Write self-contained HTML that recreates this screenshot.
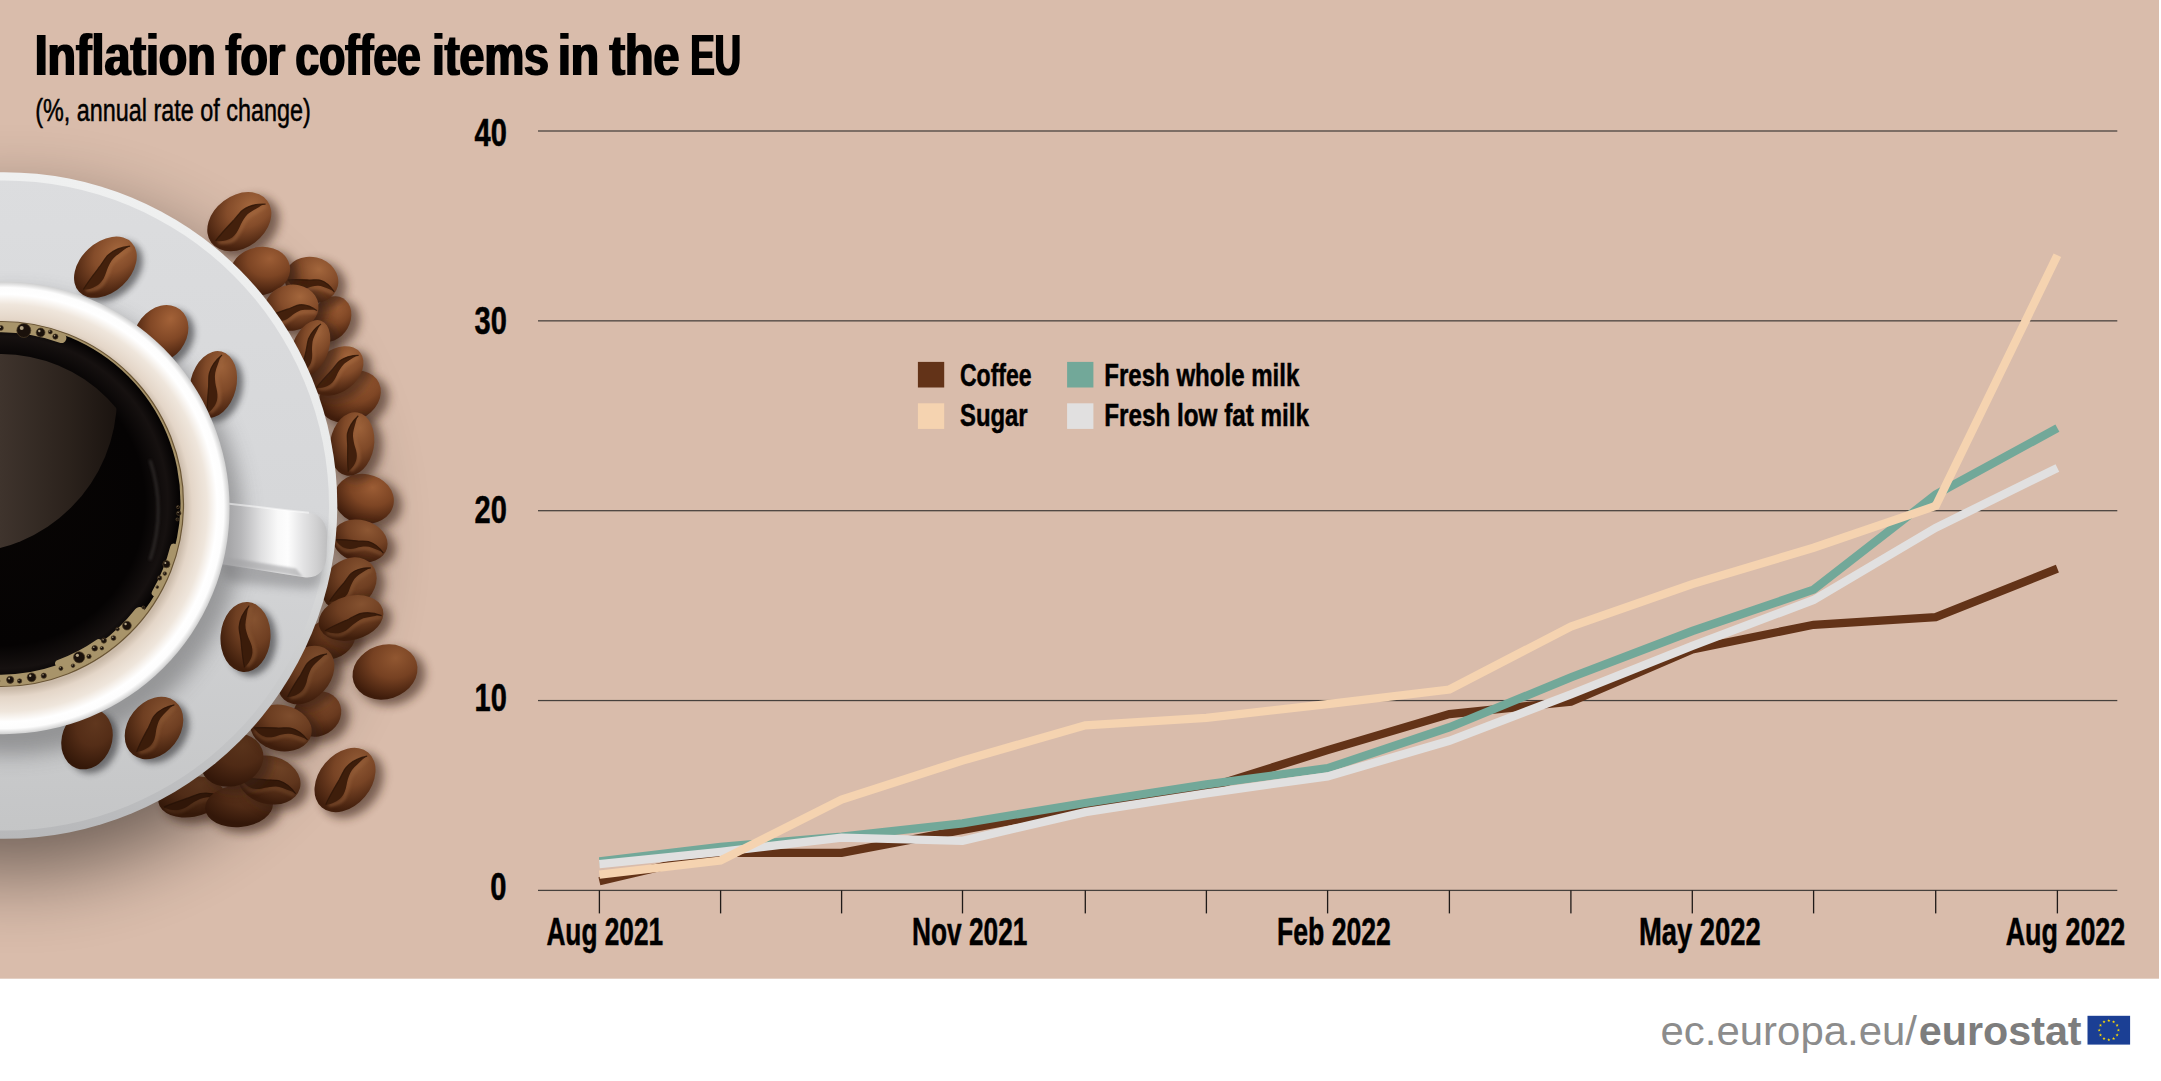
<!DOCTYPE html>
<html lang="en"><head><meta charset="utf-8"><title>Inflation for coffee items in the EU</title>
<style>html,body{margin:0;padding:0;background:#fff;overflow:hidden}svg{display:block}text{font-family:"Liberation Sans",sans-serif}.b{font-weight:700}</style></head><body>
<svg width="2161" height="1081" viewBox="0 0 2161 1081">
<defs>
<filter id="blur25" x="-30%" y="-30%" width="160%" height="160%"><feGaussianBlur stdDeviation="40"/></filter>
<filter id="blur14" x="-30%" y="-30%" width="160%" height="160%"><feGaussianBlur stdDeviation="14"/></filter>
<filter id="blur18" x="-30%" y="-30%" width="160%" height="160%"><feGaussianBlur stdDeviation="18"/></filter>
<filter id="blur6" x="-50%" y="-50%" width="200%" height="200%"><feGaussianBlur stdDeviation="5"/></filter>
<filter id="blur3" x="-50%" y="-50%" width="200%" height="200%"><feGaussianBlur stdDeviation="3"/></filter>
<filter id="blur1" x="-20%" y="-50%" width="140%" height="200%"><feGaussianBlur stdDeviation="0.8"/></filter>
<filter id="blur2" x="-50%" y="-50%" width="200%" height="200%"><feGaussianBlur stdDeviation="1.6"/></filter>
<filter id="blur10" x="-50%" y="-50%" width="200%" height="200%"><feGaussianBlur stdDeviation="10"/></filter>
<filter id="fat" x="-2%" y="-20%" width="104%" height="140%"><feMorphology operator="dilate" radius="1 0"/></filter>
<clipPath id="tanclip"><rect x="0" y="0" width="2159" height="978.7"/></clipPath>
<clipPath id="saucerclip"><circle cx="4" cy="505.5" r="333.3"/></clipPath>
<linearGradient id="saucerg" x1="0" y1="172" x2="0" y2="839" gradientUnits="userSpaceOnUse">
<stop offset="0" stop-color="#dcdddf"/><stop offset="0.5" stop-color="#d6d7d9"/><stop offset="1" stop-color="#c4c5c6"/></linearGradient>
<linearGradient id="rimg" x1="0" y1="172" x2="0" y2="839" gradientUnits="userSpaceOnUse">
<stop offset="0" stop-color="#eff0f0"/><stop offset="0.45" stop-color="#e9eaea"/><stop offset="0.7" stop-color="#cfd0d1"/><stop offset="1" stop-color="#b7b8ba"/></linearGradient>
<radialGradient id="cupg" cx="3.4" cy="508" r="226.2" gradientUnits="userSpaceOnUse">
<stop offset="0.80" stop-color="#c9b9a8"/><stop offset="0.835" stop-color="#e4d6c8"/><stop offset="0.90" stop-color="#efe6dc"/><stop offset="0.945" stop-color="#ffffff"/><stop offset="0.975" stop-color="#fdfdfd"/><stop offset="1" stop-color="#cfcfcf"/></radialGradient>
<radialGradient id="coffeeg" cx="2" cy="502.5" r="178.5" gradientUnits="userSpaceOnUse">
<stop offset="0" stop-color="#080504"/><stop offset="0.8" stop-color="#050303"/><stop offset="0.93" stop-color="#161110"/><stop offset="1" stop-color="#040202"/></radialGradient>
<linearGradient id="reflg" x1="0" y1="440" x2="115" y2="440" gradientUnits="userSpaceOnUse">
<stop offset="0" stop-color="#3f342d"/><stop offset="0.6" stop-color="#2b221c"/><stop offset="1" stop-color="#1b1410"/></linearGradient>
<clipPath id="reflclip"><circle cx="1" cy="504" r="150"/></clipPath>
<linearGradient id="handleg" x1="229" y1="0" x2="327" y2="0" gradientUnits="userSpaceOnUse">
<stop offset="0" stop-color="#a6a6a8"/><stop offset="0.12" stop-color="#b6b6b8"/><stop offset="0.33" stop-color="#e0e0e1"/><stop offset="0.5" stop-color="#f9f9f9"/><stop offset="0.6" stop-color="#fdfdfd"/><stop offset="0.75" stop-color="#e4e4e5"/><stop offset="0.9" stop-color="#cfcfd0"/><stop offset="1" stop-color="#bebebf"/></linearGradient>
<radialGradient id="bg1" cx="0.770" cy="0.382" r="0.74" fx="0.770" fy="0.382"><stop offset="0" stop-color="#a3663c"/><stop offset="0.5" stop-color="#844c2a"/><stop offset="1" stop-color="#46210e"/></radialGradient><radialGradient id="bg2" cx="0.792" cy="0.505" r="0.74" fx="0.792" fy="0.505"><stop offset="0" stop-color="#9c5d35"/><stop offset="0.5" stop-color="#7d4524"/><stop offset="1" stop-color="#401d0c"/></radialGradient><radialGradient id="bg3" cx="0.590" cy="0.240" r="0.74" fx="0.590" fy="0.240"><stop offset="0" stop-color="#a3663c"/><stop offset="0.5" stop-color="#844c2a"/><stop offset="1" stop-color="#46210e"/></radialGradient><radialGradient id="bg4" cx="0.691" cy="0.280" r="0.74" fx="0.691" fy="0.280"><stop offset="0" stop-color="#9c5d35"/><stop offset="0.5" stop-color="#7d4524"/><stop offset="1" stop-color="#401d0c"/></radialGradient><radialGradient id="bg5" cx="0.742" cy="0.333" r="0.74" fx="0.742" fy="0.333"><stop offset="0" stop-color="#9c5d35"/><stop offset="0.5" stop-color="#7d4524"/><stop offset="1" stop-color="#401d0c"/></radialGradient><radialGradient id="bg6" cx="0.772" cy="0.380" r="0.74" fx="0.772" fy="0.380"><stop offset="0" stop-color="#a3663c"/><stop offset="0.5" stop-color="#844c2a"/><stop offset="1" stop-color="#46210e"/></radialGradient><radialGradient id="bg7" cx="0.683" cy="0.287" r="0.74" fx="0.683" fy="0.287"><stop offset="0" stop-color="#a3663c"/><stop offset="0.5" stop-color="#844c2a"/><stop offset="1" stop-color="#46210e"/></radialGradient><radialGradient id="bg8" cx="0.788" cy="0.561" r="0.74" fx="0.788" fy="0.561"><stop offset="0" stop-color="#9c6139"/><stop offset="0.5" stop-color="#7f4928"/><stop offset="1" stop-color="#44200e"/></radialGradient><radialGradient id="bg9" cx="0.604" cy="0.239" r="0.74" fx="0.604" fy="0.239"><stop offset="0" stop-color="#9c5d35"/><stop offset="0.5" stop-color="#7d4524"/><stop offset="1" stop-color="#401d0c"/></radialGradient><radialGradient id="bg10" cx="0.772" cy="0.621" r="0.74" fx="0.772" fy="0.621"><stop offset="0" stop-color="#9c6139"/><stop offset="0.5" stop-color="#7f4928"/><stop offset="1" stop-color="#44200e"/></radialGradient><radialGradient id="bg11" cx="0.580" cy="0.201" r="0.74" fx="0.580" fy="0.201"><stop offset="0" stop-color="#8d5733"/><stop offset="0.5" stop-color="#744224"/><stop offset="1" stop-color="#411e0d"/></radialGradient><radialGradient id="bg12" cx="0.776" cy="0.405" r="0.74" fx="0.776" fy="0.405"><stop offset="0" stop-color="#855230"/><stop offset="0.5" stop-color="#6f3f22"/><stop offset="1" stop-color="#3f1e0c"/></radialGradient><radialGradient id="bg13" cx="0.726" cy="0.309" r="0.74" fx="0.726" fy="0.309"><stop offset="0" stop-color="#764627"/><stop offset="0.5" stop-color="#63361c"/><stop offset="1" stop-color="#391a0a"/></radialGradient><radialGradient id="bg14" cx="0.710" cy="0.257" r="0.74" fx="0.710" fy="0.257"><stop offset="0" stop-color="#855230"/><stop offset="0.5" stop-color="#6f3f22"/><stop offset="1" stop-color="#3f1e0c"/></radialGradient><radialGradient id="bg15" cx="0.755" cy="0.371" r="0.74" fx="0.755" fy="0.371"><stop offset="0" stop-color="#7e4a2a"/><stop offset="0.5" stop-color="#68391e"/><stop offset="1" stop-color="#3a1a0a"/></radialGradient><radialGradient id="bg16" cx="0.786" cy="0.439" r="0.74" fx="0.786" fy="0.439"><stop offset="0" stop-color="#7e4d2d"/><stop offset="0.5" stop-color="#6a3c20"/><stop offset="1" stop-color="#3e1d0c"/></radialGradient><radialGradient id="bg17" cx="0.691" cy="0.209" r="0.74" fx="0.691" fy="0.209"><stop offset="0" stop-color="#59341d"/><stop offset="0.5" stop-color="#502c17"/><stop offset="1" stop-color="#35190a"/></radialGradient><radialGradient id="bg18" cx="0.671" cy="0.194" r="0.74" fx="0.671" fy="0.194"><stop offset="0" stop-color="#59331b"/><stop offset="0.5" stop-color="#4f2a15"/><stop offset="1" stop-color="#331709"/></radialGradient><radialGradient id="bg19" cx="0.580" cy="0.201" r="0.74" fx="0.580" fy="0.201"><stop offset="0" stop-color="#6f4326"/><stop offset="0.5" stop-color="#60361d"/><stop offset="1" stop-color="#3a1b0b"/></radialGradient><radialGradient id="bg20" cx="0.726" cy="0.319" r="0.74" fx="0.726" fy="0.319"><stop offset="0" stop-color="#59331b"/><stop offset="0.5" stop-color="#4f2a15"/><stop offset="1" stop-color="#331709"/></radialGradient><radialGradient id="bg21" cx="0.595" cy="0.203" r="0.74" fx="0.595" fy="0.203"><stop offset="0" stop-color="#7e4d2d"/><stop offset="0.5" stop-color="#6a3c20"/><stop offset="1" stop-color="#3e1d0c"/></radialGradient><radialGradient id="bg22" cx="0.720" cy="0.313" r="0.74" fx="0.720" fy="0.313"><stop offset="0" stop-color="#915731"/><stop offset="0.5" stop-color="#764122"/><stop offset="1" stop-color="#3e1c0b"/></radialGradient><radialGradient id="bg23" cx="0.788" cy="0.449" r="0.74" fx="0.788" fy="0.449"><stop offset="0" stop-color="#915a35"/><stop offset="0.5" stop-color="#784425"/><stop offset="1" stop-color="#421f0d"/></radialGradient><radialGradient id="bg24" cx="0.789" cy="0.465" r="0.74" fx="0.789" fy="0.465"><stop offset="0" stop-color="#a36238"/><stop offset="0.5" stop-color="#824826"/><stop offset="1" stop-color="#421e0c"/></radialGradient><radialGradient id="bg25" cx="0.786" cy="0.555" r="0.74" fx="0.786" fy="0.555"><stop offset="0" stop-color="#60371e"/><stop offset="0.5" stop-color="#542d17"/><stop offset="1" stop-color="#341809"/></radialGradient><radialGradient id="bg26" cx="0.780" cy="0.407" r="0.74" fx="0.780" fy="0.407"><stop offset="0" stop-color="#a3663c"/><stop offset="0.5" stop-color="#844c2a"/><stop offset="1" stop-color="#46210e"/></radialGradient><radialGradient id="bg27" cx="0.779" cy="0.601" r="0.74" fx="0.779" fy="0.601"><stop offset="0" stop-color="#9c6139"/><stop offset="0.5" stop-color="#7f4928"/><stop offset="1" stop-color="#44200e"/></radialGradient><radialGradient id="bg28" cx="0.760" cy="0.648" r="0.74" fx="0.760" fy="0.648"><stop offset="0" stop-color="#855230"/><stop offset="0.5" stop-color="#6f3f22"/><stop offset="1" stop-color="#3f1e0c"/></radialGradient><radialGradient id="bg29" cx="0.789" cy="0.463" r="0.74" fx="0.789" fy="0.463"><stop offset="0" stop-color="#855230"/><stop offset="0.5" stop-color="#6f3f22"/><stop offset="1" stop-color="#3f1e0c"/></radialGradient></defs>
<rect x="0" y="0" width="2161" height="1081" fill="#fff"/>
<rect x="0" y="0" width="2159" height="978.7" fill="#d9bcab"/>
<g clip-path="url(#tanclip)"><circle cx="16" cy="539" r="333" fill="#000" opacity="0.49" filter="url(#blur25)"/><ellipse cx="246.3" cy="226.7" rx="36" ry="27" transform="rotate(-37 246.3 226.7)" fill="#3b2418" opacity="0.6" filter="url(#blur6)"/><g transform="translate(239.3 221.7) rotate(-37)"><ellipse rx="35" ry="26" fill="url(#bg1)"/><g transform="rotate(-5)"><path d="M-29.4,1.0 C-24.7,6.2 -19.0,9.9 -14.2,9.4 C-7.6,8.3 -1.9,5.7 2.8,3.6 C9.5,1.0 17.1,3.1 30.4,6.2" fill="none" stroke="#a86d42" stroke-width="3.5" opacity="0.55" filter="url(#blur2)"/><path d="M-30.4,-1.6 C-20.9,-3.6 -11.4,-4.2 -2.8,-4.9 C3.8,-5.7 7.6,-6.8 10.4,-6.4 C17.1,-5.7 23.8,-3.1 31.3,4.5 C28.5,3.1 26.6,2.5 24.7,2.3 C19.0,1.2 13.3,-0.5 8.5,0.3 C3.8,1.2 0.0,2.6 -2.8,4.0 C-7.6,6.2 -11.4,7.3 -15.8,6.9 C-20.9,6.2 -26.6,3.1 -30.4,-1.6 Z" fill="#43200c"/><path d="M-30.4,-1.6 C-20.9,-3.6 -11.4,-4.2 -2.8,-4.9 C3.8,-5.7 7.6,-6.8 10.4,-6.4 C17.1,-5.7 23.8,-3.1 31.3,4.5" fill="none" stroke="#301608" stroke-width="1.2" opacity="0.8"/></g></g><ellipse cx="338" cy="324" rx="25" ry="20" transform="rotate(-60 338 324)" fill="#3b2418" opacity="0.6" filter="url(#blur6)"/><g transform="translate(331 319) rotate(-60)"><ellipse rx="24" ry="19" fill="url(#bg2)"/></g><ellipse cx="318.5" cy="285" rx="28" ry="24" transform="rotate(13 318.5 285)" fill="#3b2418" opacity="0.6" filter="url(#blur6)"/><g transform="translate(311.5 280) rotate(13)"><ellipse rx="27" ry="23" fill="url(#bg3)"/><g transform="rotate(-5)"><path d="M-22.7,5.5 C-19.1,10.1 -14.7,13.3 -11.0,12.9 C-5.9,12.0 -1.5,9.7 2.2,7.8 C7.3,5.5 13.2,7.4 23.5,10.1" fill="none" stroke="#a86d42" stroke-width="3.1" opacity="0.55" filter="url(#blur2)"/><path d="M-23.5,3.2 C-16.1,1.4 -8.8,0.9 -2.2,0.3 C2.9,-0.5 5.9,-1.4 8.1,-1.1 C13.2,-0.5 18.3,1.8 24.2,8.6 C22.0,7.4 20.5,6.8 19.1,6.6 C14.7,5.7 10.3,4.1 6.6,4.9 C2.9,5.7 0.0,6.9 -2.2,8.1 C-5.9,10.1 -8.8,11.0 -12.2,10.7 C-16.1,10.1 -20.5,7.4 -23.5,3.2 Z" fill="#43200c"/><path d="M-23.5,3.2 C-16.1,1.4 -8.8,0.9 -2.2,0.3 C2.9,-0.5 5.9,-1.4 8.1,-1.1 C13.2,-0.5 18.3,1.8 24.2,8.6" fill="none" stroke="#301608" stroke-width="1.2" opacity="0.8"/></g></g><ellipse cx="267.3" cy="276" rx="31" ry="25" transform="rotate(-10 267.3 276)" fill="#3b2418" opacity="0.6" filter="url(#blur6)"/><g transform="translate(260.3 271) rotate(-10)"><ellipse rx="30" ry="24" fill="url(#bg4)"/></g><ellipse cx="357" cy="401.5" rx="33" ry="26" transform="rotate(-25 357 401.5)" fill="#3b2418" opacity="0.6" filter="url(#blur6)"/><g transform="translate(350 396.5) rotate(-25)"><ellipse rx="32" ry="25" fill="url(#bg5)"/></g><ellipse cx="343.5" cy="376" rx="31" ry="22" transform="rotate(-38 343.5 376)" fill="#3b2418" opacity="0.6" filter="url(#blur6)"/><g transform="translate(336.5 371) rotate(-38)"><ellipse rx="30" ry="21" fill="url(#bg6)"/><g transform="rotate(-5)"><path d="M-25.2,0.8 C-21.2,5.0 -16.3,8.0 -12.2,7.6 C-6.5,6.7 -1.6,4.6 2.4,2.9 C8.1,0.8 14.7,2.5 26.1,5.0" fill="none" stroke="#a86d42" stroke-width="2.9" opacity="0.55" filter="url(#blur2)"/><path d="M-26.1,-1.3 C-17.9,-2.9 -9.8,-3.4 -2.4,-3.9 C3.3,-4.6 6.5,-5.5 9.0,-5.2 C14.7,-4.6 20.4,-2.5 26.9,3.6 C24.4,2.5 22.8,2.0 21.2,1.8 C16.3,1.0 11.4,-0.4 7.3,0.3 C3.3,1.0 0.0,2.1 -2.4,3.2 C-6.5,5.0 -9.8,5.9 -13.5,5.5 C-17.9,5.0 -22.8,2.5 -26.1,-1.3 Z" fill="#43200c"/><path d="M-26.1,-1.3 C-17.9,-2.9 -9.8,-3.4 -2.4,-3.9 C3.3,-4.6 6.5,-5.5 9.0,-5.2 C14.7,-4.6 20.4,-2.5 26.9,3.6" fill="none" stroke="#301608" stroke-width="1.2" opacity="0.8"/></g></g><ellipse cx="298.6" cy="312.7" rx="28" ry="24" transform="rotate(-8 298.6 312.7)" fill="#3b2418" opacity="0.6" filter="url(#blur6)"/><g transform="translate(291.6 307.7) rotate(-8)"><ellipse rx="27" ry="23" fill="url(#bg7)"/><g transform="rotate(-5)"><path d="M-22.7,5.5 C-19.1,10.1 -14.7,13.3 -11.0,12.9 C-5.9,12.0 -1.5,9.7 2.2,7.8 C7.3,5.5 13.2,7.4 23.5,10.1" fill="none" stroke="#a86d42" stroke-width="3.1" opacity="0.55" filter="url(#blur2)"/><path d="M-23.5,3.2 C-16.1,1.4 -8.8,0.9 -2.2,0.3 C2.9,-0.5 5.9,-1.4 8.1,-1.1 C13.2,-0.5 18.3,1.8 24.2,8.6 C22.0,7.4 20.5,6.8 19.1,6.6 C14.7,5.7 10.3,4.1 6.6,4.9 C2.9,5.7 0.0,6.9 -2.2,8.1 C-5.9,10.1 -8.8,11.0 -12.2,10.7 C-16.1,10.1 -20.5,7.4 -23.5,3.2 Z" fill="#43200c"/><path d="M-23.5,3.2 C-16.1,1.4 -8.8,0.9 -2.2,0.3 C2.9,-0.5 5.9,-1.4 8.1,-1.1 C13.2,-0.5 18.3,1.8 24.2,8.6" fill="none" stroke="#301608" stroke-width="1.2" opacity="0.8"/></g></g><ellipse cx="317.2" cy="353.7" rx="31" ry="19" transform="rotate(-68 317.2 353.7)" fill="#3b2418" opacity="0.6" filter="url(#blur6)"/><g transform="translate(310.2 348.7) rotate(-68)"><ellipse rx="30" ry="18" fill="url(#bg8)"/><g transform="rotate(-5)"><path d="M-25.2,0.7 C-21.2,4.3 -16.3,6.8 -12.2,6.5 C-6.5,5.8 -1.6,4.0 2.4,2.5 C8.1,0.7 14.7,2.2 26.1,4.3" fill="none" stroke="#a1683f" stroke-width="2.4" opacity="0.55" filter="url(#blur2)"/><path d="M-26.1,-1.1 C-17.9,-2.5 -9.8,-2.9 -2.4,-3.4 C3.3,-4.0 6.5,-4.7 9.0,-4.5 C14.7,-4.0 20.4,-2.2 26.9,3.1 C24.4,2.2 22.8,1.7 21.2,1.6 C16.3,0.9 11.4,-0.4 7.3,0.2 C3.3,0.9 0.0,1.8 -2.4,2.7 C-6.5,4.3 -9.8,5.0 -13.5,4.8 C-17.9,4.3 -22.8,2.2 -26.1,-1.1 Z" fill="#411f0c"/><path d="M-26.1,-1.1 C-17.9,-2.5 -9.8,-2.9 -2.4,-3.4 C3.3,-4.0 6.5,-4.7 9.0,-4.5 C14.7,-4.0 20.4,-2.2 26.9,3.1" fill="none" stroke="#2e1608" stroke-width="1.2" opacity="0.8"/></g></g><ellipse cx="371" cy="504" rx="31" ry="26" transform="rotate(10 371 504)" fill="#3b2418" opacity="0.6" filter="url(#blur6)"/><g transform="translate(364 499) rotate(10)"><ellipse rx="30" ry="25" fill="url(#bg9)"/></g><ellipse cx="359" cy="449" rx="33" ry="23" transform="rotate(-80 359 449)" fill="#3b2418" opacity="0.6" filter="url(#blur6)"/><g transform="translate(352 444) rotate(-80)"><ellipse rx="32" ry="22" fill="url(#bg10)"/><g transform="rotate(-5)"><path d="M-26.9,0.9 C-22.6,5.3 -17.4,8.4 -13.0,7.9 C-6.9,7.0 -1.7,4.8 2.6,3.1 C8.7,0.9 15.6,2.6 27.8,5.3" fill="none" stroke="#a1683f" stroke-width="3.0" opacity="0.55" filter="url(#blur2)"/><path d="M-27.8,-1.3 C-19.1,-3.1 -10.4,-3.5 -2.6,-4.1 C3.5,-4.8 6.9,-5.7 9.6,-5.5 C15.6,-4.8 21.7,-2.6 28.7,3.8 C26.1,2.6 24.3,2.1 22.6,1.9 C17.4,1.1 12.2,-0.4 7.8,0.3 C3.5,1.1 0.0,2.2 -2.6,3.3 C-6.9,5.3 -10.4,6.2 -14.4,5.8 C-19.1,5.3 -24.3,2.6 -27.8,-1.3 Z" fill="#411f0c"/><path d="M-27.8,-1.3 C-19.1,-3.1 -10.4,-3.5 -2.6,-4.1 C3.5,-4.8 6.9,-5.7 9.6,-5.5 C15.6,-4.8 21.7,-2.6 28.7,3.8" fill="none" stroke="#2e1608" stroke-width="1.2" opacity="0.8"/></g></g><ellipse cx="367" cy="546" rx="29" ry="22" transform="rotate(15 367 546)" fill="#3b2418" opacity="0.6" filter="url(#blur6)"/><g transform="translate(360 541) rotate(15)"><ellipse rx="28" ry="21" fill="url(#bg11)"/><g transform="rotate(-5)"><path d="M-23.6,5.0 C-19.8,9.2 -15.2,12.2 -11.4,11.8 C-6.1,10.9 -1.5,8.8 2.3,7.1 C7.6,5.0 13.7,6.7 24.3,9.2" fill="none" stroke="#935e39" stroke-width="2.9" opacity="0.55" filter="url(#blur2)"/><path d="M-24.3,2.9 C-16.7,1.3 -9.1,0.8 -2.3,0.3 C3.0,-0.4 6.1,-1.3 8.4,-1.0 C13.7,-0.4 19.0,1.7 25.1,7.8 C22.8,6.7 21.3,6.2 19.8,6.0 C15.2,5.2 10.6,3.8 6.8,4.5 C3.0,5.2 0.0,6.3 -2.3,7.4 C-6.1,9.2 -9.1,10.1 -12.6,9.7 C-16.7,9.2 -21.3,6.7 -24.3,2.9 Z" fill="#3d1d0b"/><path d="M-24.3,2.9 C-16.7,1.3 -9.1,0.8 -2.3,0.3 C3.0,-0.4 6.1,-1.3 8.4,-1.0 C13.7,-0.4 19.0,1.7 25.1,7.8" fill="none" stroke="#2c1408" stroke-width="1.2" opacity="0.8"/></g></g><ellipse cx="356" cy="589" rx="31" ry="25" transform="rotate(-40 356 589)" fill="#3b2418" opacity="0.6" filter="url(#blur6)"/><g transform="translate(349 584) rotate(-40)"><ellipse rx="30" ry="24" fill="url(#bg12)"/><g transform="rotate(-5)"><path d="M-25.2,1.0 C-21.2,5.8 -16.3,9.1 -12.2,8.6 C-6.5,7.7 -1.6,5.3 2.4,3.4 C8.1,1.0 14.7,2.9 26.1,5.8" fill="none" stroke="#8c5a36" stroke-width="3.3" opacity="0.55" filter="url(#blur2)"/><path d="M-26.1,-1.4 C-17.9,-3.4 -9.8,-3.8 -2.4,-4.5 C3.3,-5.3 6.5,-6.2 9.0,-6.0 C14.7,-5.3 20.4,-2.9 26.9,4.1 C24.4,2.9 22.8,2.3 21.2,2.1 C16.3,1.2 11.4,-0.5 7.3,0.3 C3.3,1.2 0.0,2.4 -2.4,3.6 C-6.5,5.8 -9.8,6.7 -13.5,6.3 C-17.9,5.8 -22.8,2.9 -26.1,-1.4 Z" fill="#3b1c0a"/><path d="M-26.1,-1.4 C-17.9,-3.4 -9.8,-3.8 -2.4,-4.5 C3.3,-5.3 6.5,-6.2 9.0,-6.0 C14.7,-5.3 20.4,-2.9 26.9,4.1" fill="none" stroke="#2c1407" stroke-width="1.2" opacity="0.8"/></g></g><ellipse cx="337" cy="644" rx="27" ry="21" transform="rotate(-20 337 644)" fill="#3b2418" opacity="0.6" filter="url(#blur6)"/><g transform="translate(330 639) rotate(-20)"><ellipse rx="26" ry="20" fill="url(#bg13)"/></g><ellipse cx="358" cy="623" rx="34" ry="23" transform="rotate(-15 358 623)" fill="#3b2418" opacity="0.6" filter="url(#blur6)"/><g transform="translate(351 618) rotate(-15)"><ellipse rx="33" ry="22" fill="url(#bg14)"/><g transform="rotate(-5)"><path d="M-27.8,5.3 C-23.3,9.7 -17.9,12.8 -13.4,12.3 C-7.2,11.4 -1.8,9.2 2.7,7.5 C9.0,5.3 16.1,7.0 28.7,9.7" fill="none" stroke="#8c5a36" stroke-width="3.0" opacity="0.55" filter="url(#blur2)"/><path d="M-28.7,3.1 C-19.7,1.3 -10.7,0.9 -2.7,0.3 C3.6,-0.4 7.2,-1.3 9.9,-1.1 C16.1,-0.4 22.4,1.8 29.6,8.2 C26.9,7.0 25.1,6.5 23.3,6.3 C17.9,5.5 12.5,4.0 8.1,4.7 C3.6,5.5 0.0,6.6 -2.7,7.7 C-7.2,9.7 -10.7,10.6 -14.9,10.2 C-19.7,9.7 -25.1,7.0 -28.7,3.1 Z" fill="#3b1c0a"/><path d="M-28.7,3.1 C-19.7,1.3 -10.7,0.9 -2.7,0.3 C3.6,-0.4 7.2,-1.3 9.9,-1.1 C16.1,-0.4 22.4,1.8 29.6,8.2" fill="none" stroke="#2c1407" stroke-width="1.2" opacity="0.8"/></g></g><ellipse cx="324" cy="719" rx="26" ry="23" transform="rotate(-30 324 719)" fill="#3b2418" opacity="0.6" filter="url(#blur6)"/><g transform="translate(317 714) rotate(-30)"><ellipse rx="25" ry="22" fill="url(#bg15)"/></g><ellipse cx="313" cy="680" rx="34" ry="25" transform="rotate(-48 313 680)" fill="#3b2418" opacity="0.6" filter="url(#blur6)"/><g transform="translate(306 675) rotate(-48)"><ellipse rx="33" ry="24" fill="url(#bg16)"/><g transform="rotate(-5)"><path d="M-27.8,1.0 C-23.3,5.8 -17.9,9.1 -13.4,8.6 C-7.2,7.7 -1.8,5.3 2.7,3.4 C9.0,1.0 16.1,2.9 28.7,5.8" fill="none" stroke="#855532" stroke-width="3.3" opacity="0.55" filter="url(#blur2)"/><path d="M-28.7,-1.4 C-19.7,-3.4 -10.7,-3.8 -2.7,-4.5 C3.6,-5.3 7.2,-6.2 9.9,-6.0 C16.1,-5.3 22.4,-2.9 29.6,4.1 C26.9,2.9 25.1,2.3 23.3,2.1 C17.9,1.2 12.5,-0.5 8.1,0.3 C3.6,1.2 0.0,2.4 -2.7,3.6 C-7.2,5.8 -10.7,6.7 -14.9,6.3 C-19.7,5.8 -25.1,2.9 -28.7,-1.4 Z" fill="#391b0a"/><path d="M-28.7,-1.4 C-19.7,-3.4 -10.7,-3.8 -2.7,-4.5 C3.6,-5.3 7.2,-6.2 9.9,-6.0 C16.1,-5.3 22.4,-2.9 29.6,4.1" fill="none" stroke="#2a1407" stroke-width="1.2" opacity="0.8"/></g></g><ellipse cx="198" cy="802" rx="34" ry="21" transform="rotate(-10 198 802)" fill="#3b2418" opacity="0.6" filter="url(#blur6)"/><g transform="translate(191 797) rotate(-10)"><ellipse rx="33" ry="20" fill="url(#bg17)"/><g transform="rotate(-5)"><path d="M-27.8,4.8 C-23.3,8.8 -17.9,11.6 -13.4,11.2 C-7.2,10.4 -1.8,8.4 2.7,6.8 C9.0,4.8 16.1,6.4 28.7,8.8" fill="none" stroke="#623c23" stroke-width="2.7" opacity="0.55" filter="url(#blur2)"/><path d="M-28.7,2.8 C-19.7,1.2 -10.7,0.8 -2.7,0.2 C3.6,-0.4 7.2,-1.2 9.9,-1.0 C16.1,-0.4 22.4,1.6 29.6,7.4 C26.9,6.4 25.1,5.9 23.3,5.8 C17.9,5.0 12.5,3.6 8.1,4.2 C3.6,5.0 0.0,6.0 -2.7,7.0 C-7.2,8.8 -10.7,9.6 -14.9,9.3 C-19.7,8.8 -25.1,6.4 -28.7,2.8 Z" fill="#301608"/><path d="M-28.7,2.8 C-19.7,1.2 -10.7,0.8 -2.7,0.2 C3.6,-0.4 7.2,-1.2 9.9,-1.0 C16.1,-0.4 22.4,1.6 29.6,7.4" fill="none" stroke="#261106" stroke-width="1.2" opacity="0.8"/></g></g><ellipse cx="246" cy="811" rx="35" ry="22" transform="rotate(-5 246 811)" fill="#3b2418" opacity="0.6" filter="url(#blur6)"/><g transform="translate(239 806) rotate(-5)"><ellipse rx="34" ry="21" fill="url(#bg18)"/></g><ellipse cx="276" cy="785" rx="33" ry="25" transform="rotate(15 276 785)" fill="#3b2418" opacity="0.6" filter="url(#blur6)"/><g transform="translate(269 780) rotate(15)"><ellipse rx="32" ry="24" fill="url(#bg19)"/><g transform="rotate(-5)"><path d="M-26.9,5.8 C-22.6,10.6 -17.4,13.9 -13.0,13.4 C-6.9,12.5 -1.7,10.1 2.6,8.2 C8.7,5.8 15.6,7.7 27.8,10.6" fill="none" stroke="#774b2c" stroke-width="3.3" opacity="0.55" filter="url(#blur2)"/><path d="M-27.8,3.4 C-19.1,1.4 -10.4,1.0 -2.6,0.3 C3.5,-0.5 6.9,-1.4 9.6,-1.2 C15.6,-0.5 21.7,1.9 28.7,8.9 C26.1,7.7 24.3,7.1 22.6,6.9 C17.4,6.0 12.2,4.3 7.8,5.1 C3.5,6.0 0.0,7.2 -2.6,8.4 C-6.9,10.6 -10.4,11.5 -14.4,11.1 C-19.1,10.6 -24.3,7.7 -27.8,3.4 Z" fill="#351909"/><path d="M-27.8,3.4 C-19.1,1.4 -10.4,1.0 -2.6,0.3 C3.5,-0.5 6.9,-1.4 9.6,-1.2 C15.6,-0.5 21.7,1.9 28.7,8.9" fill="none" stroke="#281206" stroke-width="1.2" opacity="0.8"/></g></g><ellipse cx="239" cy="765" rx="33" ry="27" transform="rotate(-20 239 765)" fill="#3b2418" opacity="0.6" filter="url(#blur6)"/><g transform="translate(232 760) rotate(-20)"><ellipse rx="32" ry="26" fill="url(#bg20)"/></g><ellipse cx="288" cy="733" rx="32" ry="24" transform="rotate(12 288 733)" fill="#3b2418" opacity="0.6" filter="url(#blur6)"/><g transform="translate(281 728) rotate(12)"><ellipse rx="31" ry="23" fill="url(#bg21)"/><g transform="rotate(-5)"><path d="M-26.1,5.5 C-21.9,10.1 -16.8,13.3 -12.6,12.9 C-6.7,12.0 -1.7,9.7 2.5,7.8 C8.4,5.5 15.1,7.4 26.9,10.1" fill="none" stroke="#855532" stroke-width="3.1" opacity="0.55" filter="url(#blur2)"/><path d="M-26.9,3.2 C-18.5,1.4 -10.1,0.9 -2.5,0.3 C3.4,-0.5 6.7,-1.4 9.3,-1.1 C15.1,-0.5 21.0,1.8 27.8,8.6 C25.2,7.4 23.6,6.8 21.9,6.6 C16.8,5.7 11.8,4.1 7.6,4.9 C3.4,5.7 0.0,6.9 -2.5,8.1 C-6.7,10.1 -10.1,11.0 -14.0,10.7 C-18.5,10.1 -23.6,7.4 -26.9,3.2 Z" fill="#391b0a"/><path d="M-26.9,3.2 C-18.5,1.4 -10.1,0.9 -2.5,0.3 C3.4,-0.5 6.7,-1.4 9.3,-1.1 C15.1,-0.5 21.0,1.8 27.8,8.6" fill="none" stroke="#2a1407" stroke-width="1.2" opacity="0.8"/></g></g><ellipse cx="392" cy="677" rx="34" ry="28" transform="rotate(-18 392 677)" fill="#3b2418" opacity="0.6" filter="url(#blur6)"/><g transform="translate(385 672) rotate(-18)"><ellipse rx="33" ry="27" fill="url(#bg22)"/></g><ellipse cx="352" cy="785" rx="37" ry="27" transform="rotate(-50 352 785)" fill="#3b2418" opacity="0.6" filter="url(#blur6)"/><g transform="translate(345 780) rotate(-50)"><ellipse rx="36" ry="26" fill="url(#bg23)"/><g transform="rotate(-5)"><path d="M-30.3,1.0 C-25.4,6.2 -19.5,9.9 -14.7,9.4 C-7.8,8.3 -2.0,5.7 2.9,3.6 C9.8,1.0 17.6,3.1 31.3,6.2" fill="none" stroke="#97613b" stroke-width="3.5" opacity="0.55" filter="url(#blur2)"/><path d="M-31.3,-1.6 C-21.5,-3.6 -11.7,-4.2 -2.9,-4.9 C3.9,-5.7 7.8,-6.8 10.7,-6.4 C17.6,-5.7 24.4,-3.1 32.2,4.5 C29.3,3.1 27.4,2.5 25.4,2.3 C19.5,1.2 13.7,-0.5 8.8,0.3 C3.9,1.2 0.0,2.6 -2.9,4.0 C-7.8,6.2 -11.7,7.3 -16.2,6.9 C-21.5,6.2 -27.4,3.1 -31.3,-1.6 Z" fill="#3e1e0b"/><path d="M-31.3,-1.6 C-21.5,-3.6 -11.7,-4.2 -2.9,-4.9 C3.9,-5.7 7.8,-6.8 10.7,-6.4 C17.6,-5.7 24.4,-3.1 32.2,4.5" fill="none" stroke="#2d1508" stroke-width="1.2" opacity="0.8"/></g></g><circle cx="4" cy="505.5" r="333.3" fill="url(#rimg)"/><circle cx="4" cy="505.5" r="325" fill="url(#saucerg)"/><g clip-path="url(#saucerclip)"><circle cx="12" cy="524" r="231" fill="#5e5f61" opacity="0.5" filter="url(#blur10)"/><rect x="225" y="514" width="100" height="68" rx="14" transform="rotate(5 229 540)" fill="#6a6b6d" opacity="0.42" filter="url(#blur6)"/><ellipse cx="167" cy="338" rx="31" ry="25" transform="rotate(-52 167 338)" fill="#2e2e30" opacity="0.6" filter="url(#blur3)"/><g transform="translate(161 334) rotate(-52)"><ellipse rx="31" ry="25" fill="url(#bg24)"/></g><ellipse cx="93" cy="743" rx="31" ry="25" transform="rotate(-70 93 743)" fill="#2e2e30" opacity="0.6" filter="url(#blur3)"/><g transform="translate(87 739) rotate(-70)"><ellipse rx="31" ry="25" fill="url(#bg25)"/></g><ellipse cx="111.4" cy="271.2" rx="36" ry="25" transform="rotate(-43 111.4 271.2)" fill="#2e2e30" opacity="0.6" filter="url(#blur3)"/><g transform="translate(105.4 267.2) rotate(-43)"><ellipse rx="36" ry="25" fill="url(#bg26)"/><g transform="rotate(-5)"><path d="M-30.3,1.0 C-25.4,6.0 -19.5,9.5 -14.7,9.0 C-7.8,8.0 -2.0,5.5 2.9,3.5 C9.8,1.0 17.6,3.0 31.3,6.0" fill="none" stroke="#a86d42" stroke-width="3.4" opacity="0.55" filter="url(#blur2)"/><path d="M-31.3,-1.5 C-21.5,-3.5 -11.7,-4.0 -2.9,-4.7 C3.9,-5.5 7.8,-6.5 10.7,-6.2 C17.6,-5.5 24.4,-3.0 32.2,4.3 C29.3,3.0 27.4,2.4 25.4,2.2 C19.5,1.2 13.7,-0.5 8.8,0.3 C3.9,1.2 0.0,2.5 -2.9,3.8 C-7.8,6.0 -11.7,7.0 -16.2,6.6 C-21.5,6.0 -27.4,3.0 -31.3,-1.5 Z" fill="#43200c"/><path d="M-31.3,-1.5 C-21.5,-3.5 -11.7,-4.0 -2.9,-4.7 C3.9,-5.5 7.8,-6.5 10.7,-6.2 C17.6,-5.5 24.4,-3.0 32.2,4.3" fill="none" stroke="#301608" stroke-width="1.2" opacity="0.8"/></g></g><ellipse cx="219.3" cy="388.5" rx="34" ry="23" transform="rotate(-76 219.3 388.5)" fill="#2e2e30" opacity="0.6" filter="url(#blur3)"/><g transform="translate(213.3 384.5) rotate(-76)"><ellipse rx="34" ry="23" fill="url(#bg27)"/><g transform="rotate(-5)"><path d="M-28.6,0.9 C-24.0,5.5 -18.5,8.7 -13.8,8.3 C-7.4,7.4 -1.8,5.1 2.8,3.2 C9.2,0.9 16.6,2.8 29.5,5.5" fill="none" stroke="#a1683f" stroke-width="3.1" opacity="0.55" filter="url(#blur2)"/><path d="M-29.5,-1.4 C-20.3,-3.2 -11.1,-3.7 -2.8,-4.3 C3.7,-5.1 7.4,-6.0 10.2,-5.7 C16.6,-5.1 23.1,-2.8 30.5,4.0 C27.7,2.8 25.8,2.2 24.0,2.0 C18.5,1.1 12.9,-0.5 8.3,0.3 C3.7,1.1 0.0,2.3 -2.8,3.5 C-7.4,5.5 -11.1,6.4 -15.3,6.1 C-20.3,5.5 -25.8,2.8 -29.5,-1.4 Z" fill="#411f0c"/><path d="M-29.5,-1.4 C-20.3,-3.2 -11.1,-3.7 -2.8,-4.3 C3.7,-5.1 7.4,-6.0 10.2,-5.7 C16.6,-5.1 23.1,-2.8 30.5,4.0" fill="none" stroke="#2e1608" stroke-width="1.2" opacity="0.8"/></g></g><ellipse cx="251.5" cy="641" rx="35" ry="25" transform="rotate(-86 251.5 641)" fill="#2e2e30" opacity="0.6" filter="url(#blur3)"/><g transform="translate(245.5 637) rotate(-86)"><ellipse rx="35" ry="25" fill="url(#bg28)"/><g transform="rotate(-5)"><path d="M-29.4,1.0 C-24.7,6.0 -19.0,9.5 -14.2,9.0 C-7.6,8.0 -1.9,5.5 2.8,3.5 C9.5,1.0 17.1,3.0 30.4,6.0" fill="none" stroke="#8c5a36" stroke-width="3.4" opacity="0.55" filter="url(#blur2)"/><path d="M-30.4,-1.5 C-20.9,-3.5 -11.4,-4.0 -2.8,-4.7 C3.8,-5.5 7.6,-6.5 10.4,-6.2 C17.1,-5.5 23.8,-3.0 31.3,4.3 C28.5,3.0 26.6,2.4 24.7,2.2 C19.0,1.2 13.3,-0.5 8.5,0.3 C3.8,1.2 0.0,2.5 -2.8,3.8 C-7.6,6.0 -11.4,7.0 -15.8,6.6 C-20.9,6.0 -26.6,3.0 -30.4,-1.5 Z" fill="#3b1c0a"/><path d="M-30.4,-1.5 C-20.9,-3.5 -11.4,-4.0 -2.8,-4.7 C3.8,-5.5 7.6,-6.5 10.4,-6.2 C17.1,-5.5 23.8,-3.0 31.3,4.3" fill="none" stroke="#2c1407" stroke-width="1.2" opacity="0.8"/></g></g><ellipse cx="160" cy="732" rx="34" ry="26" transform="rotate(-52 160 732)" fill="#2e2e30" opacity="0.6" filter="url(#blur3)"/><g transform="translate(154 728) rotate(-52)"><ellipse rx="34" ry="26" fill="url(#bg29)"/><g transform="rotate(-5)"><path d="M-28.6,1.0 C-24.0,6.2 -18.5,9.9 -13.8,9.4 C-7.4,8.3 -1.8,5.7 2.8,3.6 C9.2,1.0 16.6,3.1 29.5,6.2" fill="none" stroke="#8c5a36" stroke-width="3.5" opacity="0.55" filter="url(#blur2)"/><path d="M-29.5,-1.6 C-20.3,-3.6 -11.1,-4.2 -2.8,-4.9 C3.7,-5.7 7.4,-6.8 10.2,-6.4 C16.6,-5.7 23.1,-3.1 30.5,4.5 C27.7,3.1 25.8,2.5 24.0,2.3 C18.5,1.2 12.9,-0.5 8.3,0.3 C3.7,1.2 0.0,2.6 -2.8,4.0 C-7.4,6.2 -11.1,7.3 -15.3,6.9 C-20.3,6.2 -25.8,3.1 -29.5,-1.6 Z" fill="#3b1c0a"/><path d="M-29.5,-1.6 C-20.3,-3.6 -11.1,-4.2 -2.8,-4.9 C3.7,-5.7 7.4,-6.8 10.2,-6.4 C16.6,-5.7 23.1,-3.1 30.5,4.5" fill="none" stroke="#2c1407" stroke-width="1.2" opacity="0.8"/></g></g></g><path d="M205,501 L309,512.7 C320,514 327,523 327,536 L326.5,556 C326,570 318,579 304,577.2 L205,561.5 Z" fill="url(#handleg)"/><path d="M205,554 L296,568.5 L303,577 L205,561.5 Z" fill="#a2a2a4" opacity="0.6" filter="url(#blur1)"/><path d="M205,501 L309,512.7" stroke="#ffffff" stroke-width="2" opacity="0.5" fill="none"/><circle cx="3.4" cy="508" r="226.2" fill="url(#cupg)"/><circle cx="1" cy="504" r="182.5" fill="#a8946a"/><circle cx="1" cy="504" r="182.5" fill="none" stroke="#6b5636" stroke-width="1.2"/><circle cx="2" cy="502.5" r="178.5" fill="url(#coffeeg)"/><path d="M139.7,612.4 A176,176 0 0 1 -41.6,674.8" fill="none" stroke="#a8946a" stroke-width="11" stroke-linecap="round"/><path d="M98.5,643.3 A170,170 0 0 1 59.1,663.7" fill="none" stroke="#a8946a" stroke-width="8" stroke-linecap="round"/><path d="M-41.7,332.7 A176.5,176.5 0 0 1 61.4,338.1" fill="none" stroke="#a8946a" stroke-width="10" stroke-linecap="round"/><path d="M173.7,547.1 A178,178 0 0 1 155.2,593.0" fill="none" stroke="#a8946a" stroke-width="7" stroke-linecap="round"/><g clip-path="url(#reflclip)"><circle cx="-39" cy="397" r="156" fill="url(#reflg)"/></g><path d="M150,460 A160,160 0 0 1 150,560" fill="none" stroke="#5a5552" stroke-width="1.5" opacity="0.7" filter="url(#blur2)"/><circle cx="-26.7" cy="329.2" r="2.6" fill="#1a110b" stroke="#4d3d26" stroke-width="0.7"/><circle cx="-27.5" cy="328.3" r="0.7" fill="#d8c7a2" opacity="0.8"/><circle cx="-17.4" cy="329.0" r="3.2" fill="#1a110b" stroke="#4d3d26" stroke-width="0.7"/><circle cx="-18.4" cy="327.8" r="0.9" fill="#d8c7a2" opacity="0.8"/><circle cx="-8.3" cy="326.2" r="2.0" fill="#1a110b" stroke="#4d3d26" stroke-width="0.7"/><circle cx="-8.9" cy="325.5" r="0.6" fill="#d8c7a2" opacity="0.8"/><circle cx="1.0" cy="328.0" r="2.4" fill="#1a110b" stroke="#4d3d26" stroke-width="0.7"/><circle cx="0.3" cy="327.2" r="0.7" fill="#d8c7a2" opacity="0.8"/><circle cx="23.8" cy="330.5" r="7.0" fill="#1a110b" stroke="#4d3d26" stroke-width="0.7"/><circle cx="21.7" cy="328.0" r="2.0" fill="#d8c7a2" opacity="0.8"/><circle cx="40.6" cy="332.5" r="4.4" fill="#1a110b" stroke="#4d3d26" stroke-width="0.7"/><circle cx="39.3" cy="331.0" r="1.2" fill="#d8c7a2" opacity="0.8"/><circle cx="50.3" cy="331.9" r="2.0" fill="#1a110b" stroke="#4d3d26" stroke-width="0.7"/><circle cx="49.7" cy="331.2" r="0.6" fill="#d8c7a2" opacity="0.8"/><circle cx="55.4" cy="336.6" r="2.6" fill="#1a110b" stroke="#4d3d26" stroke-width="0.7"/><circle cx="54.6" cy="335.7" r="0.7" fill="#d8c7a2" opacity="0.8"/><circle cx="178.0" cy="507.1" r="1.6" fill="#1a110b" stroke="#4d3d26" stroke-width="0.7"/><circle cx="177.5" cy="506.5" r="0.4" fill="#d8c7a2" opacity="0.8"/><circle cx="178.8" cy="513.3" r="2.2" fill="#1a110b" stroke="#4d3d26" stroke-width="0.7"/><circle cx="178.1" cy="512.5" r="0.6" fill="#d8c7a2" opacity="0.8"/><circle cx="177.3" cy="519.4" r="1.5" fill="#1a110b" stroke="#4d3d26" stroke-width="0.7"/><circle cx="176.9" cy="518.9" r="0.4" fill="#d8c7a2" opacity="0.8"/><circle cx="166.4" cy="564.2" r="3.6" fill="#1a110b" stroke="#4d3d26" stroke-width="0.7"/><circle cx="165.3" cy="562.9" r="1.0" fill="#d8c7a2" opacity="0.8"/><circle cx="164.8" cy="573.6" r="1.8" fill="#1a110b" stroke="#4d3d26" stroke-width="0.7"/><circle cx="164.3" cy="572.9" r="0.5" fill="#d8c7a2" opacity="0.8"/><circle cx="159.6" cy="578.0" r="2.2" fill="#1a110b" stroke="#4d3d26" stroke-width="0.7"/><circle cx="158.9" cy="577.2" r="0.6" fill="#d8c7a2" opacity="0.8"/><circle cx="157.3" cy="587.1" r="1.4" fill="#1a110b" stroke="#4d3d26" stroke-width="0.7"/><circle cx="156.9" cy="586.6" r="0.4" fill="#d8c7a2" opacity="0.8"/><circle cx="143.4" cy="607.5" r="1.5" fill="#1a110b" stroke="#4d3d26" stroke-width="0.7"/><circle cx="142.9" cy="606.9" r="0.4" fill="#d8c7a2" opacity="0.8"/><circle cx="126.9" cy="625.6" r="4.4" fill="#1a110b" stroke="#4d3d26" stroke-width="0.7"/><circle cx="125.6" cy="624.0" r="1.2" fill="#d8c7a2" opacity="0.8"/><circle cx="117.6" cy="629.1" r="1.8" fill="#1a110b" stroke="#4d3d26" stroke-width="0.7"/><circle cx="117.1" cy="628.4" r="0.5" fill="#d8c7a2" opacity="0.8"/><circle cx="113.5" cy="638.1" r="2.4" fill="#1a110b" stroke="#4d3d26" stroke-width="0.7"/><circle cx="112.8" cy="637.2" r="0.7" fill="#d8c7a2" opacity="0.8"/><circle cx="103.9" cy="640.6" r="2.6" fill="#1a110b" stroke="#4d3d26" stroke-width="0.7"/><circle cx="103.1" cy="639.7" r="0.7" fill="#d8c7a2" opacity="0.8"/><circle cx="101.9" cy="648.2" r="1.8" fill="#1a110b" stroke="#4d3d26" stroke-width="0.7"/><circle cx="101.4" cy="647.5" r="0.5" fill="#d8c7a2" opacity="0.8"/><circle cx="94.7" cy="648.3" r="2.8" fill="#1a110b" stroke="#4d3d26" stroke-width="0.7"/><circle cx="93.8" cy="647.3" r="0.8" fill="#d8c7a2" opacity="0.8"/><circle cx="89.0" cy="656.4" r="2.2" fill="#1a110b" stroke="#4d3d26" stroke-width="0.7"/><circle cx="88.3" cy="655.7" r="0.6" fill="#d8c7a2" opacity="0.8"/><circle cx="79.1" cy="657.3" r="5.6" fill="#1a110b" stroke="#4d3d26" stroke-width="0.7"/><circle cx="77.4" cy="655.3" r="1.6" fill="#d8c7a2" opacity="0.8"/><circle cx="73.0" cy="665.7" r="1.8" fill="#1a110b" stroke="#4d3d26" stroke-width="0.7"/><circle cx="72.5" cy="665.1" r="0.5" fill="#d8c7a2" opacity="0.8"/><circle cx="60.9" cy="668.4" r="2.0" fill="#1a110b" stroke="#4d3d26" stroke-width="0.7"/><circle cx="60.3" cy="667.7" r="0.6" fill="#d8c7a2" opacity="0.8"/><circle cx="43.8" cy="675.7" r="2.6" fill="#1a110b" stroke="#4d3d26" stroke-width="0.7"/><circle cx="43.0" cy="674.8" r="0.7" fill="#d8c7a2" opacity="0.8"/><circle cx="31.6" cy="677.3" r="4.4" fill="#1a110b" stroke="#4d3d26" stroke-width="0.7"/><circle cx="30.2" cy="675.8" r="1.2" fill="#d8c7a2" opacity="0.8"/><circle cx="19.6" cy="681.0" r="2.2" fill="#1a110b" stroke="#4d3d26" stroke-width="0.7"/><circle cx="18.9" cy="680.3" r="0.6" fill="#d8c7a2" opacity="0.8"/><circle cx="10.2" cy="679.8" r="3.6" fill="#1a110b" stroke="#4d3d26" stroke-width="0.7"/><circle cx="9.1" cy="678.5" r="1.0" fill="#d8c7a2" opacity="0.8"/><circle cx="-2.1" cy="681.0" r="2.0" fill="#1a110b" stroke="#4d3d26" stroke-width="0.7"/><circle cx="-2.7" cy="680.3" r="0.6" fill="#d8c7a2" opacity="0.8"/><circle cx="-14.4" cy="680.3" r="3.4" fill="#1a110b" stroke="#4d3d26" stroke-width="0.7"/><circle cx="-15.4" cy="679.1" r="1.0" fill="#d8c7a2" opacity="0.8"/><circle cx="-26.7" cy="678.8" r="2.0" fill="#1a110b" stroke="#4d3d26" stroke-width="0.7"/><circle cx="-27.3" cy="678.1" r="0.6" fill="#d8c7a2" opacity="0.8"/></g>
<rect x="538" y="130.375" width="1579.3" height="1.25" fill="#46403c"/>
<rect x="538" y="320.225" width="1579.3" height="1.25" fill="#46403c"/>
<rect x="538" y="510.075" width="1579.3" height="1.25" fill="#46403c"/>
<rect x="538" y="699.925" width="1579.3" height="1.25" fill="#46403c"/>
<rect x="538" y="889.775" width="1579.3" height="1.25" fill="#46403c"/>
<rect x="598.75" y="890.4" width="1.3" height="23" fill="#1f1a18"/>
<rect x="719.95" y="890.4" width="1.3" height="23" fill="#1f1a18"/>
<rect x="840.95" y="890.4" width="1.3" height="23" fill="#1f1a18"/>
<rect x="961.85" y="890.4" width="1.3" height="23" fill="#1f1a18"/>
<rect x="1084.65" y="890.4" width="1.3" height="23" fill="#1f1a18"/>
<rect x="1205.75" y="890.4" width="1.3" height="23" fill="#1f1a18"/>
<rect x="1326.95" y="890.4" width="1.3" height="23" fill="#1f1a18"/>
<rect x="1448.75" y="890.4" width="1.3" height="23" fill="#1f1a18"/>
<rect x="1570.25" y="890.4" width="1.3" height="23" fill="#1f1a18"/>
<rect x="1691.65" y="890.4" width="1.3" height="23" fill="#1f1a18"/>
<rect x="1812.95" y="890.4" width="1.3" height="23" fill="#1f1a18"/>
<rect x="1935.05" y="890.4" width="1.3" height="23" fill="#1f1a18"/>
<rect x="2056.75" y="890.4" width="1.3" height="23" fill="#1f1a18"/>
<polyline points="599.4,881.2 720.6,852.8 841.6,852.8 962.5,829.9 1085.3,807.1 1206.4,788.1 1327.6,750.1 1449.4,714.0 1570.9,701.7 1692.3,649.4 1813.6,624.8 1935.7,617.1 2057.4,568.7" fill="none" stroke="#633318" stroke-width="8.3" stroke-linejoin="miter" stroke-linecap="butt"/>
<polyline points="599.4,861.3 720.6,847.0 841.6,836.6 962.5,823.3 1085.3,803.0 1206.4,784.3 1327.6,768.2 1449.4,727.3 1570.9,677.4 1692.3,631.0 1813.6,589.6 1935.7,494.6 2057.4,428.1" fill="none" stroke="#72a899" stroke-width="8.3" stroke-linejoin="miter" stroke-linecap="butt"/>
<polyline points="599.4,864.1 720.6,851.8 841.6,837.7 962.5,840.8 1085.3,812.1 1206.4,793.3 1327.6,776.4 1449.4,740.8 1570.9,694.3 1692.3,645.8 1813.6,600.0 1935.7,527.8 2057.4,468.0" fill="none" stroke="#e1e0e0" stroke-width="8.3" stroke-linejoin="miter" stroke-linecap="butt"/>
<polyline points="599.4,874.6 720.6,860.5 841.6,799.5 962.5,760.6 1085.3,725.3 1206.4,717.8 1327.6,704.2 1449.4,689.5 1570.9,626.5 1692.3,584.1 1813.6,547.8 1935.7,506.0 2057.4,255.2" fill="none" stroke="#f5d3b0" stroke-width="8.3" stroke-linejoin="miter" stroke-linecap="butt"/>
<g filter="url(#fat)">
<text x="34.69" y="75" font-size="56.5" class="b" fill="#000" textLength="181.02" lengthAdjust="spacingAndGlyphs">Inflation</text>
<text x="225.55" y="75" font-size="56.5" class="b" fill="#000" textLength="59.52" lengthAdjust="spacingAndGlyphs">for</text>
<text x="295.54" y="75" font-size="56.5" class="b" fill="#000" textLength="125.2" lengthAdjust="spacingAndGlyphs">coffee</text>
<text x="432.33" y="75" font-size="56.5" class="b" fill="#000" textLength="116.59" lengthAdjust="spacingAndGlyphs">items</text>
<text x="557.89" y="75" font-size="56.5" class="b" fill="#000" textLength="41.17" lengthAdjust="spacingAndGlyphs">in</text>
<text x="609.49" y="75" font-size="56.5" class="b" fill="#000" textLength="69.96" lengthAdjust="spacingAndGlyphs">the</text>
<text x="690.58" y="75" font-size="56.5" class="b" fill="#000" textLength="50.14" lengthAdjust="spacingAndGlyphs">EU</text>
</g>
<text x="35.2" y="120.5" font-size="31" class="r" fill="#000" stroke="#000" stroke-width="0.5" textLength="275.6" lengthAdjust="spacingAndGlyphs">(%, annual rate of change)</text>
<text x="474.5" y="146.4" font-size="38" class="b" fill="#000" stroke="#000" stroke-width="0.5" textLength="32.3" lengthAdjust="spacingAndGlyphs">40</text>
<text x="474.5" y="334.4" font-size="38" class="b" fill="#000" stroke="#000" stroke-width="0.5" textLength="32.3" lengthAdjust="spacingAndGlyphs">30</text>
<text x="474.5" y="522.8" font-size="38" class="b" fill="#000" stroke="#000" stroke-width="0.5" textLength="32.3" lengthAdjust="spacingAndGlyphs">20</text>
<text x="474.5" y="711.3" font-size="38" class="b" fill="#000" stroke="#000" stroke-width="0.5" textLength="32.3" lengthAdjust="spacingAndGlyphs">10</text>
<text x="490.3" y="900.0" font-size="38" class="b" fill="#000" stroke="#000" stroke-width="0.5" textLength="16.2" lengthAdjust="spacingAndGlyphs">0</text>
<text x="546.4" y="944.8" font-size="38.3" class="b" fill="#000" stroke="#000" stroke-width="0.5" textLength="116.8" lengthAdjust="spacingAndGlyphs">Aug 2021</text>
<text x="911.9" y="944.8" font-size="38.3" class="b" fill="#000" stroke="#000" stroke-width="0.5" textLength="115.5" lengthAdjust="spacingAndGlyphs">Nov 2021</text>
<text x="1276.9" y="944.8" font-size="38.3" class="b" fill="#000" stroke="#000" stroke-width="0.5" textLength="114.0" lengthAdjust="spacingAndGlyphs">Feb 2022</text>
<text x="1638.9" y="944.8" font-size="38.3" class="b" fill="#000" stroke="#000" stroke-width="0.5" textLength="121.9" lengthAdjust="spacingAndGlyphs">May 2022</text>
<text x="2005.7" y="944.8" font-size="38.3" class="b" fill="#000" stroke="#000" stroke-width="0.5" textLength="119.6" lengthAdjust="spacingAndGlyphs">Aug 2022</text>
<rect x="917.9" y="361.9" width="26.3" height="25.6" fill="#633318"/>
<rect x="917.9" y="403.3" width="26.3" height="25.6" fill="#f5d3b0"/>
<rect x="1067.1" y="361.9" width="26.3" height="25.6" fill="#72a899"/>
<rect x="1067.1" y="403.3" width="26.3" height="25.6" fill="#e1e0e0"/>
<text x="960.0" y="385.5" font-size="30.5" class="b" fill="#000" stroke="#000" stroke-width="0.5" textLength="71.6" lengthAdjust="spacingAndGlyphs">Coffee</text>
<text x="960.0" y="426.4" font-size="30.5" class="b" fill="#000" stroke="#000" stroke-width="0.5" textLength="67.6" lengthAdjust="spacingAndGlyphs">Sugar</text>
<text x="1104.3" y="385.5" font-size="30.5" class="b" fill="#000" stroke="#000" stroke-width="0.5" textLength="195" lengthAdjust="spacingAndGlyphs">Fresh whole milk</text>
<text x="1104.3" y="426.4" font-size="30.5" class="b" fill="#000" stroke="#000" stroke-width="0.5" textLength="204.7" lengthAdjust="spacingAndGlyphs">Fresh low fat milk</text>
<text x="1660.5" y="1045" font-size="41" fill="#8c8c8c" textLength="256.5" lengthAdjust="spacingAndGlyphs">ec.europa.eu/</text>
<text x="1918.8" y="1045" font-size="41" class="b" fill="#7d7d7d" textLength="162.8" lengthAdjust="spacingAndGlyphs">eurostat</text>
<rect x="2087.5" y="1015.8" width="42.6" height="28.8" fill="#1b3f94"/>
<polygon points="2108.80,1018.90 2109.18,1020.07 2110.42,1020.07 2109.42,1020.80 2109.80,1021.98 2108.80,1021.25 2107.80,1021.98 2108.18,1020.80 2107.18,1020.07 2108.42,1020.07" fill="#ffdd00"/>
<polygon points="2113.60,1020.19 2113.98,1021.36 2115.22,1021.36 2114.22,1022.09 2114.60,1023.26 2113.60,1022.54 2112.60,1023.26 2112.98,1022.09 2111.98,1021.36 2113.22,1021.36" fill="#ffdd00"/>
<polygon points="2117.11,1023.70 2117.50,1024.87 2118.73,1024.87 2117.73,1025.60 2118.11,1026.78 2117.11,1026.05 2116.11,1026.78 2116.50,1025.60 2115.50,1024.87 2116.73,1024.87" fill="#ffdd00"/>
<polygon points="2118.40,1028.50 2118.78,1029.67 2120.02,1029.67 2119.02,1030.40 2119.40,1031.58 2118.40,1030.85 2117.40,1031.58 2117.78,1030.40 2116.78,1029.67 2118.02,1029.67" fill="#ffdd00"/>
<polygon points="2117.11,1033.30 2117.50,1034.47 2118.73,1034.47 2117.73,1035.20 2118.11,1036.38 2117.11,1035.65 2116.11,1036.38 2116.50,1035.20 2115.50,1034.47 2116.73,1034.47" fill="#ffdd00"/>
<polygon points="2113.60,1036.81 2113.98,1037.99 2115.22,1037.99 2114.22,1038.71 2114.60,1039.89 2113.60,1039.16 2112.60,1039.89 2112.98,1038.71 2111.98,1037.99 2113.22,1037.99" fill="#ffdd00"/>
<polygon points="2108.80,1038.10 2109.18,1039.27 2110.42,1039.27 2109.42,1040.00 2109.80,1041.18 2108.80,1040.45 2107.80,1041.18 2108.18,1040.00 2107.18,1039.27 2108.42,1039.27" fill="#ffdd00"/>
<polygon points="2104.00,1036.81 2104.38,1037.99 2105.62,1037.99 2104.62,1038.71 2105.00,1039.89 2104.00,1039.16 2103.00,1039.89 2103.38,1038.71 2102.38,1037.99 2103.62,1037.99" fill="#ffdd00"/>
<polygon points="2100.49,1033.30 2100.87,1034.47 2102.10,1034.47 2101.10,1035.20 2101.49,1036.38 2100.49,1035.65 2099.49,1036.38 2099.87,1035.20 2098.87,1034.47 2100.10,1034.47" fill="#ffdd00"/>
<polygon points="2099.20,1028.50 2099.58,1029.67 2100.82,1029.67 2099.82,1030.40 2100.20,1031.58 2099.20,1030.85 2098.20,1031.58 2098.58,1030.40 2097.58,1029.67 2098.82,1029.67" fill="#ffdd00"/>
<polygon points="2100.49,1023.70 2100.87,1024.87 2102.10,1024.87 2101.10,1025.60 2101.49,1026.78 2100.49,1026.05 2099.49,1026.78 2099.87,1025.60 2098.87,1024.87 2100.10,1024.87" fill="#ffdd00"/>
<polygon points="2104.00,1020.19 2104.38,1021.36 2105.62,1021.36 2104.62,1022.09 2105.00,1023.26 2104.00,1022.54 2103.00,1023.26 2103.38,1022.09 2102.38,1021.36 2103.62,1021.36" fill="#ffdd00"/>
</svg></body></html>
